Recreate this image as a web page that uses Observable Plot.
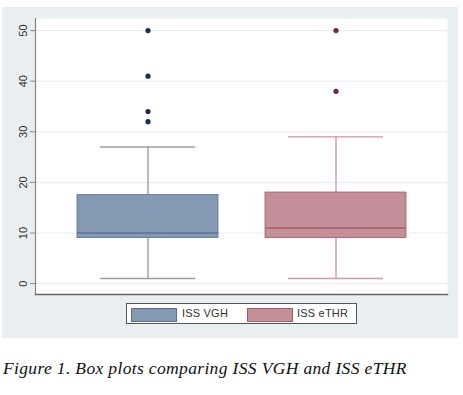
<!DOCTYPE html>
<html>
<head>
<meta charset="utf-8">
<script src="https://cdn.jsdelivr.net/npm/d3@7"></script>
<script src="https://cdn.jsdelivr.net/npm/@observablehq/plot@0.6"></script>
<style>
  html, body { margin: 0; padding: 0; background: #ffffff; }
  #wrap { position: relative; width: 463px; height: 395px; }
  #chart { position: absolute; left: 2px; top: 7px; }
  #legend { position: absolute; left: 126px; top: 303px; width: 229px; height: 19px;
    border: 1px solid #555; background: #fff; font-family: "Liberation Sans", Arial, sans-serif;
    font-size: 11px; color: #333; }
  .sw { position: absolute; top: 4px; width: 44px; height: 12px; }
  .lt { position: absolute; top: 3px; line-height: 13px; letter-spacing: 0.2px; }
  #caption { position: absolute; left: 3px; top: 358px; font-family: "Liberation Serif", "Times New Roman", serif;
    font-style: italic; font-size: 17.5px; letter-spacing: 0.35px; color: #111; white-space: nowrap; }
</style>
</head>
<body>
<div id="wrap">
  <div id="chart"></div>
  <div id="legend"></div>
  <div id="caption"></div>
</div>
<script>
// ---- data ----
const categories = ["ISS VGH", "ISS eTHR"];
const whiskerLow = [1, 1];
const q1 = [9, 9];
const median = [10, 11];
const q3 = [17.5, 18];
const whiskerHigh = [27, 29];
const outlierGroup = ["ISS VGH", "ISS VGH", "ISS VGH", "ISS VGH", "ISS eTHR", "ISS eTHR"];
const outlierValue = [50, 41, 34, 32, 50, 38];
const yTicks = [0, 10, 20, 30, 40, 50];
const captionText = "Figure 1. Box plots comparing ISS VGH and ISS eTHR";

// ---- styles ----
const fillColors = ["#8699b2", "#c48f97"];
const medianColors = ["#5a7094", "#a35c69"];
const whiskerColors = ["#9a9ea4", "#cc9aa2"];
const dotColors = ["#1f2b55", "#6a2a40"];

const boxes = categories.map((c, i) => ({
  cat: c, lo: whiskerLow[i], q1: q1[i], med: median[i], q3: q3[i], hi: whiskerHigh[i], i
}));
const outliers = outlierGroup.map((g, i) => ({cat: g, v: outlierValue[i], i: categories.indexOf(g)}));

const plot = Plot.plot({
  width: 456,
  height: 331,
  marginLeft: 33,
  marginRight: 11,
  marginTop: 11,
  marginBottom: 44,
  style: {background: "#e9eef1", fontFamily: "Liberation Sans, Arial, sans-serif", fontSize: "11px", color: "#333"},
  x: {domain: categories, paddingInner: 0.252, paddingOuter: 0.216, axis: null},
  y: {domain: [-2.15, 52.39], axis: null},
  marks: [
    Plot.frame({fill: "#ffffff", stroke: null}),
    Plot.ruleY(yTicks, {stroke: "#e6eded", strokeWidth: 1}),
    Plot.ruleX(boxes, {x: "cat", y1: "lo", y2: "q1", stroke: d => whiskerColors[d.i], strokeWidth: 1.4}),
    Plot.ruleX(boxes, {x: "cat", y1: "q3", y2: "hi", stroke: d => whiskerColors[d.i], strokeWidth: 1.4}),
    Plot.tickY(boxes, {x: "cat", y: "lo", stroke: d => whiskerColors[d.i], strokeWidth: 1.4, insetLeft: 23, insetRight: 23}),
    Plot.tickY(boxes, {x: "cat", y: "hi", stroke: d => whiskerColors[d.i], strokeWidth: 1.4, insetLeft: 23, insetRight: 23}),
    Plot.barY(boxes, {x: "cat", y1: "q1", y2: "q3", fill: d => fillColors[d.i], stroke: d => medianColors[d.i], strokeWidth: 0.8}),
    Plot.tickY(boxes, {x: "cat", y: "med", stroke: d => medianColors[d.i], strokeWidth: 1.6}),
    Plot.dot(outliers, {x: "cat", y: "v", r: 2.6, fill: d => dotColors[d.i], stroke: null}),
    Plot.axisY(yTicks, {anchor: "left", tickSize: 5, tickPadding: 4, tickRotate: -90, stroke: "#888", fill: "#333", fontSize: 11}),
    Plot.frame({anchor: "left", stroke: "#888", strokeWidth: 1.2}),
    Plot.frame({anchor: "bottom", stroke: "#666", strokeWidth: 1.4})
  ]
});
document.getElementById("chart").appendChild(plot);

// legend
const legend = document.getElementById("legend");
const swX = [4, 120];
const txX = [55, 170];
categories.forEach((c, i) => {
  const s = document.createElement("div");
  s.className = "sw";
  s.style.left = swX[i] + "px";
  s.style.background = fillColors[i];
  s.style.border = "0.5px solid " + medianColors[i];
  legend.appendChild(s);
  const t = document.createElement("div");
  t.className = "lt";
  t.style.left = txX[i] + "px";
  t.textContent = c;
  legend.appendChild(t);
});
document.getElementById("caption").textContent = captionText;
</script>
</body>
</html>
